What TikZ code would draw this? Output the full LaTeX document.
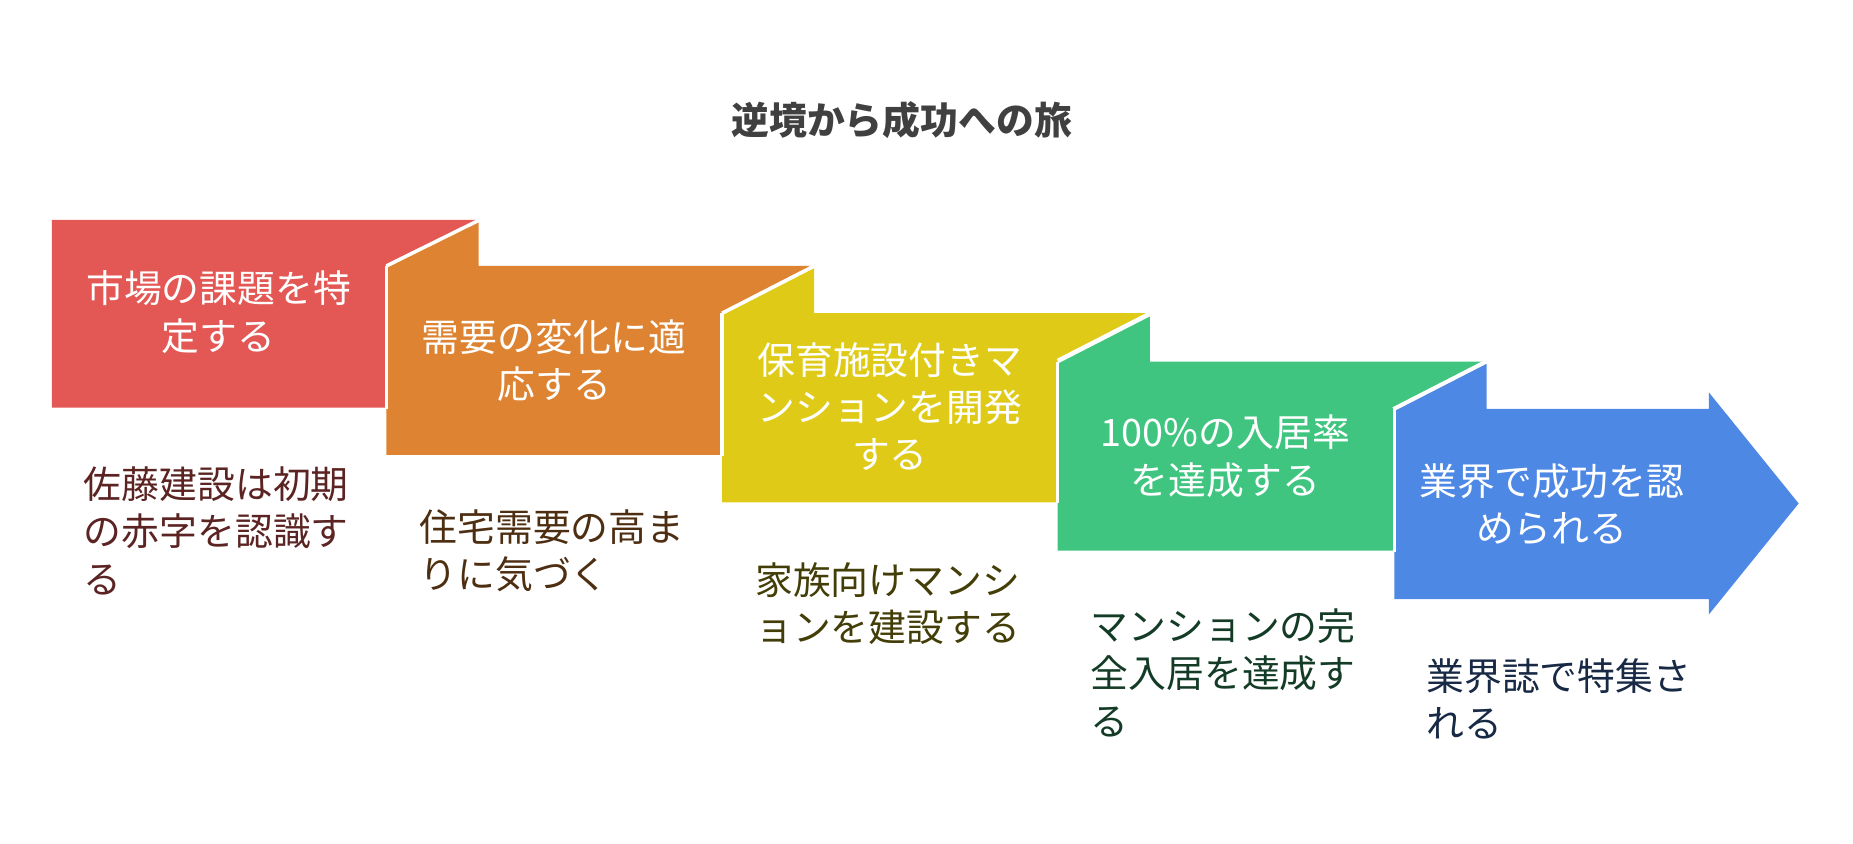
\documentclass[tikz,border=0pt]{standalone}
\usepackage{fontspec}
\setmainfont{Noto Sans CJK JP}
\usetikzlibrary{positioning, calc}
\definecolor{cRed}{HTML}{E35855}
\definecolor{cOrange}{HTML}{DD8331}
\definecolor{cYellow}{HTML}{DFCB17}
\definecolor{cGreen}{HTML}{3FC57F}
\definecolor{cBlue}{HTML}{4E88E5}
\tikzset{
    stage/.style={draw=white, line width=1.5pt, line join=miter},
    stagetext/.style={text=white, font=\fontsize{16}{20}\selectfont, align=center},
    desc/.style={anchor=north west, font=\fontsize{16}{20}\selectfont, align=left},
}
\newcommand{\Stage}[3]{% left, top, colour
  \fill[#3] (#1,#2) -- ++(78,-40) -- ++(0,40) -- ++(284,0) -- ++(-78,40) -- ++(0,120) -- ++(-284,0) -- cycle;
  \draw[stage] (#1,#2) -- ++(78,-40) (#1+284,#2+40) -- ++(78,-40);
}
\begin{document}
\begin{tikzpicture}[x=0.5pt, y=-0.5pt]
    \useasboundingbox (0,0) rectangle (1568,714);

    \node[font=\fontsize{16}{20}\selectfont\bfseries, text=black!75] (title) at (763,102) {逆境から成功への旅};

    % stages, back to front
    \fill[cBlue] (1180,346) -- (1258,306) -- (1258,346) -- (1446,346) -- (1446,332) -- (1522,426) -- (1446,520) -- (1446,507) -- (1180,507) -- cycle;
    \draw[stage] (1180,346) -- (1258,306);
    \Stage{895}{306}{cGreen}
    \Stage{611}{265}{cYellow}
    \Stage{327}{225}{cOrange}
    \fill[cRed] (44,186) -- (406,186) -- (327,225) -- (327,345) -- (44,345) -- cycle;
    \draw[stage] (327,225) -- (406,186);
    \draw[stage] (327,225) -- (327,346);
    \draw[stage] (611,265) -- (611,386);
    \draw[stage] (895,306) -- (895,426);
    \draw[stage] (1180,346) -- (1180,467);

    \node[stagetext] (s1) at (185,264) {市場の課題を特\\定する};
    \node[stagetext] (s2) at (469,305) {需要の変化に適\\応する};
    \node[stagetext] (s3) at (753,344) {保育施設付きマ\\ンションを開発\\する};
    \node[stagetext] (s4) at (1037,386) {100\%の入居率\\を達成する};
    \node[stagetext] (s5) at (1313,427) {業界で成功を認\\められる};

    \node[desc, text=cRed!40!black] (d1) at (64,388) {佐藤建設は初期\\の赤字を認識す\\る};
    \node[desc, text=cOrange!35!black] (d2) at (348,424) {住宅需要の高ま\\りに気づく};
    \node[desc, text=cYellow!30!black] (d3) at (632,469) {家族向けマンシ\\ョンを建設する};
    \node[desc, text=cGreen!30!black] (d4) at (916,508) {マンションの完\\全入居を達成す\\る};
    \node[desc, text=cBlue!30!black] (d5) at (1200,550) {業界誌で特集さ\\れる};
\end{tikzpicture}
\end{document}
